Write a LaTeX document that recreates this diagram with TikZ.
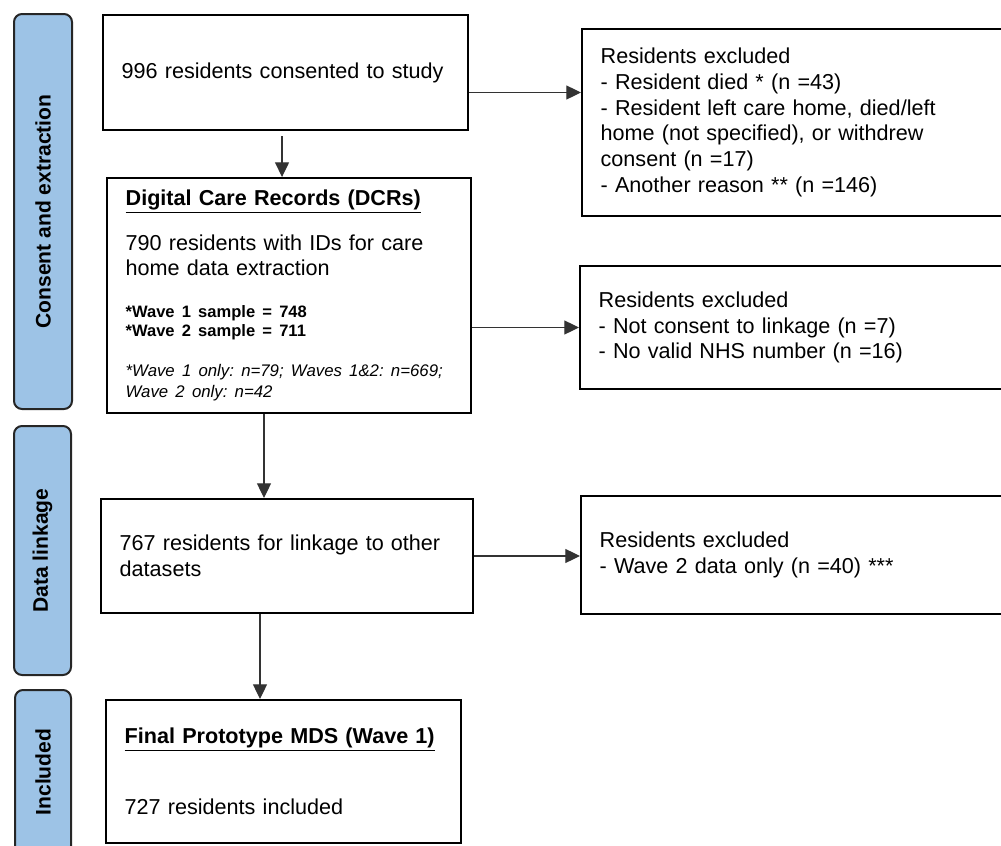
\documentclass[tikz,border=0pt]{standalone}
\usepackage{fontspec}
\setmainfont{Liberation Sans}
\usetikzlibrary{arrows.meta}
\definecolor{phaseblue}{HTML}{9DC3E6}
\definecolor{phaseline}{HTML}{262626}
\newcommand\waveb{\fontsize{12.4}{14.25}\selectfont\bfseries}
\newcommand\wavei{\fontsize{12.6}{15.75}\selectfont\itshape}

\begin{document}
\begin{tikzpicture}[x=0.75pt,y=-0.75pt,->,>={Triangle[length=11pt,width=10.5pt]},
  font=\fontsize{16.2}{19.3}\selectfont\frenchspacing,
  box/.style={draw,line width=1.5pt,inner xsep=14pt,inner ysep=0pt,align=left},
  phase/.style={draw=phaseline,fill=phaseblue,line width=1.5pt,rounded corners=6pt,
    rotate=90,font=\fontsize{15.8}{19}\selectfont\bfseries},
  arr/.style={draw=black!80,line width=0.9pt}]
\useasboundingbox (0,0) rectangle (1001,846);
\clip (0,0) rectangle (1001,846);
% stages
\node[phase,minimum width=296.25pt,minimum height=43.5pt] (cons) at (43,211.5) {Consent and extraction};
\node[phase,minimum width=186.75pt,minimum height=42.75pt] (link) at (42.5,550.5) {Data linkage};
\node[phase,minimum width=123pt,minimum height=42pt] (incl) at (43,772) {Included};
% main flow
\node[box,minimum width=273.75pt,minimum height=86.25pt,text width=245.75pt] (consent) at (285.5,72.5)
  {996 residents consented to study};
\node[box,minimum width=273pt,minimum height=176.25pt,text width=245pt] (dcr) at (289,295.5)
  {{\bfseries\underline{Digital Care Records (DCRs)}}\\[14pt]
   790 residents with IDs for care\\home data extraction\par
   \vspace{17pt}{\waveb *Wave 1 sample = 748\\{}*Wave 2 sample = 711\par}
   \vspace{14pt}{\wavei *Wave 1 only: n=79; Waves 1\&2: n=669;\\Wave 2 only: n=42\par}};
\node[box,minimum width=279pt,minimum height=85.5pt,text width=251pt] (linkage) at (287,556)
  {767 residents for linkage to other\\datasets};
\node[box,minimum width=266.25pt,minimum height=107.25pt,text width=238.25pt] (final) at (283.5,771.5)
  {{\bfseries\underline{Final Prototype MDS (Wave 1)}}\\[34pt]727 residents included};
% exclusions
\node[box,minimum width=320.25pt,minimum height=140.25pt,text width=292.25pt] (excl1) at (795.5,122.5)
  {Residents excluded\\- Resident died * (n =43)\\- Resident left care home, died/left\\
   home (not specified), or withdrew\\consent (n =17)\\- Another reason ** (n =146)};
\node[box,minimum width=322.5pt,minimum height=92.25pt,text width=294.5pt] (excl2) at (795,327.5)
  {Residents excluded\\- Not consent to linkage (n =7)\\- No valid NHS number (n =16)};
\node[box,minimum width=321.75pt,minimum height=88.5pt,text width=293.75pt] (excl3) at (795.5,555)
  {Residents excluded\\- Wave 2 data only (n =40) ***};
% arrows
\coordinate (c0) at ([xshift=-2.6pt]consent.south);
\coordinate (c1) at ([yshift=-15pt]consent.east);
\coordinate (c2) at ([xshift=-18.75pt]dcr.south);
\coordinate (c3) at ([xshift=-20.25pt]linkage.south);
\path[arr,shorten <=3.75pt] (c0) -- (c0 |- dcr.north);
\path[arr] (c1) -- (c1 -| excl1.west);
\path[arr] (excl2.west -| dcr.east) -- (excl2.west);
\path[arr] (c2) -- (c2 |- linkage.north);
\path[arr] (linkage.east) -- (linkage.east -| excl3.west);
\path[arr] (c3) -- (c3 |- final.north);
\end{tikzpicture}
\end{document}
